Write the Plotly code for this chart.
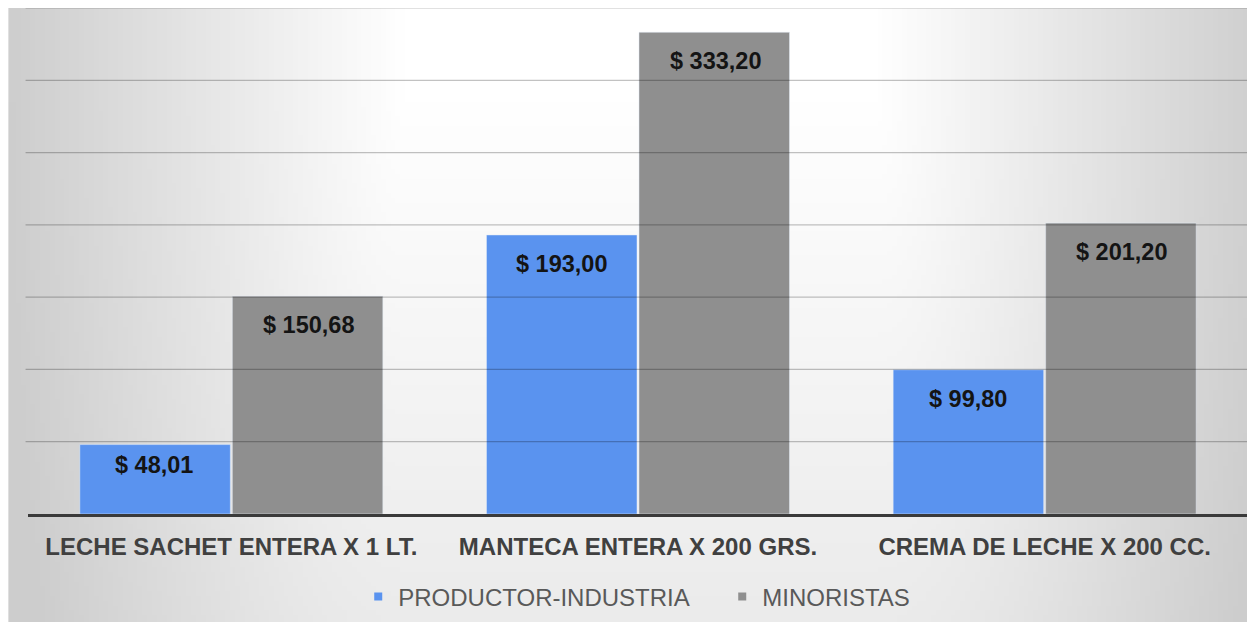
import base64, struct, zlib
import numpy as np
import plotly.graph_objects as go

categories = ["LECHE SACHET ENTERA X 1 LT.", "MANTECA ENTERA X 200 GRS.", "CREMA DE LECHE X 200 CC."]
productor = [48.01, 193.00, 99.80]
minoristas = [150.68, 333.20, 201.20]
series_names = ["PRODUCTOR-INDUSTRIA", "MINORISTAS"]
grid_values = [50, 100, 150, 200, 250, 300, 350]

def fmt(v):
    return "$ " + f"{v:.2f}".replace(".", ",")

OFF = 8  # page body margin
W, H = 1255 - OFF, 622 - OFF
ML, MR, MT, MB = 27.5 - OFF, 6.5, 8 - OFF, 108
PW, PH = W - ML - MR, H - MT - MB
YMAX = 350
PX_PER_UNIT = PH / YMAX

# background gradient as PNG
iw, ih = 256, 128
xs = np.linspace(OFF, 1255, iw)
ys = np.linspace(OFF, 622, ih)
X, Y = np.meshgrid(xs, ys)
ex = np.maximum(0, np.abs(X - 640) - 240) / 400
ey = np.maximum(0, Y - 100) / 500 * 0.38
f = np.clip(np.sqrt(ex**2 + ey**2), 0, 1)
img = (255 - 50 * f).astype(np.uint8)
raw = b"".join(b"\x00" + img[r].tobytes() for r in range(ih))
def chunk(t, d):
    c = struct.pack(">I", len(d)) + t + d
    return c + struct.pack(">I", zlib.crc32(t + d) & 0xffffffff)
png = b"\x89PNG\r\n\x1a\n" + chunk(b"IHDR", struct.pack(">IIBBBBB", iw, ih, 8, 0, 0, 0, 0)) \
    + chunk(b"IDAT", zlib.compress(raw, 9)) + chunk(b"IEND", b"")
src = "data:image/png;base64," + base64.b64encode(png).decode()

BLUE = "#5a93ef"
GRAY = "#8f8f8f"
FONT = "Liberation Sans, Arial, sans-serif"

fig = go.Figure()
fig.add_trace(go.Bar(x=categories, y=productor, name=series_names[0], marker_color=BLUE,
                     showlegend=False, hoverinfo="skip"))
fig.add_trace(go.Bar(x=categories, y=minoristas, name=series_names[1], marker_color=GRAY,
                     showlegend=False, hoverinfo="skip"))
for name, col in zip(series_names, [BLUE, GRAY]):
    fig.add_trace(go.Scatter(x=[None], y=[None], mode="markers", name=name,
                             marker=dict(symbol="square", size=8, color=col)))

annotations = []
for vals, shift in [(productor, -77), (minoristas, 77)]:
    for c, v in zip(categories, vals):
        ys_ = -min(29, 0.3 * v * PX_PER_UNIT)
        annotations.append(dict(x=c, y=v, xref="x", yref="y", text="<b>" + fmt(v) + "</b>",
                                showarrow=False, xshift=shift, yshift=ys_, yanchor="middle",
                                font=dict(family=FONT, size=23.5, color="#141414")))

shapes = [dict(type="line", xref="paper", yref="y", x0=-0.002, x1=1.001, y0=g, y1=g,
               layer="above", line=dict(color="rgba(0,0,0,0.24)", width=1.2)) for g in grid_values]

fig.update_layout(
    width=W, height=H,
    margin=dict(l=ML, r=MR, t=MT, b=MB),
    paper_bgcolor="#f2f2f2",
    plot_bgcolor="rgba(0,0,0,0)",
    barmode="group", bargap=0.25, bargroupgap=0.013,
    font=dict(family=FONT),
    showlegend=True,
    legend=dict(orientation="h", x=(358 - 27.5) / PW, xanchor="left",
                y=-(597 - 514) / PH, yanchor="middle",
                font=dict(family=FONT, size=24, color="#595959"),
                entrywidth=319, entrywidthmode="pixels",
                bgcolor="rgba(0,0,0,0)", itemclick=False),
    annotations=annotations,
    shapes=shapes,
    images=[dict(source=src, xref="paper", yref="paper", x=-ML / PW, y=1 + MT / PH,
                 sizex=W / PW, sizey=H / PH, sizing="stretch", layer="below",
                 xanchor="left", yanchor="top")],
    xaxis=dict(showgrid=False, showline=True, linecolor="#3a3a3a", linewidth=3,
               ticks="", ticklabelstandoff=9,
               tickfont=dict(family=FONT, size=24, color="#404040")),
    yaxis=dict(range=[0, YMAX], showgrid=False, showticklabels=False, zeroline=False,
               ticks="", showline=False),
)
fig.update_xaxes(tickvals=categories, ticktext=["<b>" + c + "</b>" for c in categories])

fig.write_html("out.html")
